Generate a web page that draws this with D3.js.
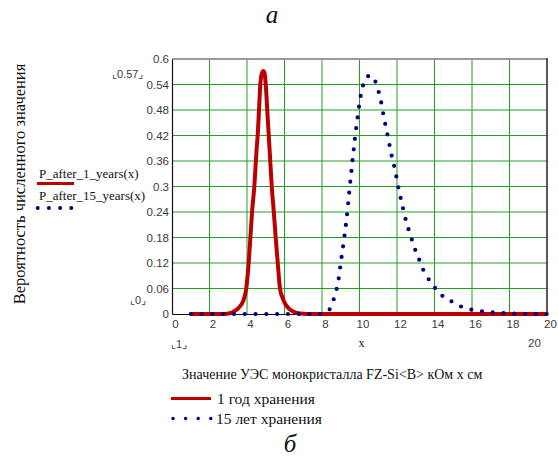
<!DOCTYPE html>
<html>
<head>
<meta charset="utf-8">
<script src="https://cdn.jsdelivr.net/npm/d3@7"></script>
<style>
  html, body { margin: 0; padding: 0; background: #fff; }
  svg { display: block; }
  .tick text { font-family: "Liberation Sans", Arial, sans-serif; font-size: 11.5px; fill: #3a3a3a; }
  .serif { font-family: "Liberation Serif", "DejaVu Serif", serif; fill: #111; }
  .sans { font-family: "Liberation Sans", Arial, sans-serif; fill: #3a3a3a; }
</style>
</head>
<body>
<svg id="chart" width="558" height="460"></svg>
<script>
// Resistivity values (x) and probability of each value after 1 year of storage
const yearOneX = [1, 2.8, 3.1, 3.3, 3.54, 3.82, 3.96, 4.09, 4.18, 4.27, 4.39, 4.51, 4.57, 4.64, 4.71, 4.79, 4.87, 4.94,
                  5.0, 5.08, 5.16, 5.24, 5.32, 5.43, 5.53, 5.64, 5.76, 5.94, 6.2, 6.5, 6.85, 7.2, 20];
const yearOneP = [0, 0, 0.002, 0.006, 0.014, 0.033, 0.06, 0.12, 0.18, 0.24, 0.30, 0.386, 0.42, 0.48, 0.54, 0.566, 0.572, 0.566,
                  0.54, 0.48, 0.42, 0.36, 0.30, 0.24, 0.18, 0.12, 0.06, 0.033, 0.014, 0.005, 0.001, 0, 0];

// Same quantity after 15 years of storage
const yearFifteenX = [1, 7.9, 8.3, 8.55, 8.7, 8.85, 9.0, 9.15, 9.3, 9.45, 9.6, 9.75, 9.9, 10.05, 10.2, 10.4, 10.6, 10.8,
                      10.95, 11.1, 11.3, 11.5, 11.7, 11.9, 12.1, 12.3, 12.5, 12.7, 12.9, 13.2, 13.4, 13.6, 13.9, 14.2,
                      14.5, 14.9, 15.3, 15.7, 16.2, 16.75, 17.3, 17.8, 18.5, 19.2, 20];
const yearFifteenP = [0, 0, 0.006, 0.024, 0.047, 0.072, 0.12, 0.168, 0.22, 0.285, 0.35, 0.41, 0.464, 0.51, 0.54, 0.558, 0.561, 0.552,
                      0.533, 0.51, 0.463, 0.42, 0.376, 0.338, 0.292, 0.253, 0.216, 0.188, 0.16, 0.126, 0.104, 0.088, 0.069, 0.052,
                      0.04, 0.03, 0.02, 0.013, 0.0085, 0.005, 0.003, 0.0016, 0.0006, 0.0002, 0];

const xTicks = [0, 2, 4, 6, 8, 10, 12, 14, 16, 18, 20];
const yTicks = [0, 0.06, 0.12, 0.18, 0.24, 0.3, 0.36, 0.42, 0.48, 0.54, 0.6];

const seriesNames = ["P_after_1_years(x)", "P_after_15_years(x)"];
const legendNames = ["1 год хранения", "15 лет хранения"];
const axisTitleX = "Значение УЭС монокристалла FZ-Si<B> кОм x см";
const axisTitleY = "Вероятность численного значения";

const RED = "#bb0000";
const NAVY = "#000080";
const GRID = "#22a022";

const svg = d3.select("#chart");

const x = d3.scaleLinear().domain([0, 20]).range([172, 547]);
const y = d3.scaleLinear().domain([0, 0.6]).range([314, 59]);

// grid
const grid = svg.append("g");
grid.selectAll("line.v").data(xTicks.slice(1, -1)).join("line")
  .attr("x1", d => x(d)).attr("x2", d => x(d))
  .attr("y1", y(0)).attr("y2", y(0.6))
  .attr("stroke", GRID).attr("stroke-width", 1);
grid.selectAll("line.h").data(yTicks.slice(1, -1)).join("line")
  .attr("y1", d => y(d)).attr("y2", d => y(d))
  .attr("x1", x(0)).attr("x2", x(20))
  .attr("stroke", GRID).attr("stroke-width", 1);

// frame: grey top edge, dark right edge
svg.append("line").attr("x1", x(0)).attr("x2", x(20)).attr("y1", y(0.6)).attr("y2", y(0.6))
  .attr("stroke", "#9a9a9a").attr("stroke-width", 2);
svg.append("line").attr("x1", x(20)).attr("x2", x(20)).attr("y1", y(0.6) - 1).attr("y2", y(0))
  .attr("stroke", "#222").attr("stroke-width", 1.5);

// axes
const fmtY = d => String(+d.toFixed(2));
const yAxis = svg.append("g").attr("transform", `translate(${x(0)},0)`)
  .call(d3.axisLeft(y).tickValues(yTicks).tickSize(0).tickPadding(3).tickFormat(fmtY));
yAxis.select(".domain").attr("stroke", "#111").attr("stroke-width", 1.2);

const xAxis = svg.append("g").attr("transform", `translate(0,${y(0)})`)
  .call(d3.axisBottom(x).tickValues(xTicks).tickSize(0).tickPadding(6).tickFormat(d3.format("d")));
xAxis.select(".domain").attr("stroke", "#111").attr("stroke-width", 1.2);
xAxis.selectAll(".tick text").attr("dx", 3);

// curves
const line = d3.line().curve(d3.curveMonotoneX).x(d => x(d[0])).y(d => y(d[1]));
const redData = d3.zip(yearOneX, yearOneP);
const blueData = d3.zip(yearFifteenX, yearFifteenP);

svg.append("path").datum(redData).attr("d", line)
  .attr("fill", "none").attr("stroke", RED).attr("stroke-width", 4)
  .attr("stroke-linejoin", "round");

svg.append("path").datum(blueData).attr("d", line)
  .attr("fill", "none").attr("stroke", NAVY).attr("stroke-width", 4.2)
  .attr("stroke-linecap", "round").attr("stroke-dasharray", "0 10.8");

// axis range markers
svg.append("text").attr("class", "sans").attr("x", 112).attr("y", 78).attr("font-size", 11).text("⌞0.57⌟");
svg.append("text").attr("class", "sans").attr("x", 130).attr("y", 304).attr("font-size", 11).text("⌞0⌟");
svg.append("text").attr("class", "sans").attr("x", 171).attr("y", 348).attr("font-size", 11).text("⌞1⌟");
svg.append("text").attr("class", "sans").attr("x", 528).attr("y", 347).attr("font-size", 11.5).text("20");
svg.append("text").attr("class", "serif").attr("x", 361.5).attr("y", 347).attr("font-size", 12)
  .attr("text-anchor", "middle").attr("fill", "#333").text("x");

// left legend with trace names
svg.append("text").attr("class", "serif").attr("x", 39).attr("y", 178).attr("font-size", 13).text(seriesNames[0]);
svg.append("line").attr("x1", 37).attr("x2", 74).attr("y1", 183.5).attr("y2", 183.5)
  .attr("stroke", RED).attr("stroke-width", 3);
svg.append("text").attr("class", "serif").attr("x", 39).attr("y", 199.5).attr("font-size", 13).text(seriesNames[1]);
svg.append("line").attr("x1", 37.7).attr("x2", 72).attr("y1", 208).attr("y2", 208)
  .attr("stroke", NAVY).attr("stroke-width", 4).attr("stroke-linecap", "round").attr("stroke-dasharray", "0 11.2");

// axis titles
svg.append("text").attr("class", "serif").attr("font-size", 16.5)
  .attr("transform", "translate(25,184) rotate(-90)").attr("text-anchor", "middle").text(axisTitleY);
svg.append("text").attr("class", "serif").attr("x", 182).attr("y", 379).attr("font-size", 14).text(axisTitleX);

// bottom legend
svg.append("line").attr("x1", 171).attr("x2", 211).attr("y1", 398.5).attr("y2", 398.5)
  .attr("stroke", RED).attr("stroke-width", 3);
svg.append("text").attr("class", "serif").attr("x", 217).attr("y", 403.5).attr("font-size", 15.5).text(legendNames[0]);
svg.append("line").attr("x1", 173).attr("x2", 211).attr("y1", 418.5).attr("y2", 418.5)
  .attr("stroke", NAVY).attr("stroke-width", 3.5).attr("stroke-linecap", "round").attr("stroke-dasharray", "0 12.6");
svg.append("text").attr("class", "serif").attr("x", 216).attr("y", 423.5).attr("font-size", 15.5).text(legendNames[1]);

// panel letters
svg.append("text").attr("class", "serif").attr("x", 272).attr("y", 23).attr("font-size", 25)
  .attr("font-style", "italic").attr("text-anchor", "middle").text("а");
svg.append("text").attr("class", "serif").attr("x", 290).attr("y", 452).attr("font-size", 25)
  .attr("font-style", "italic").attr("text-anchor", "middle").text("б");
</script>
</body>
</html>
